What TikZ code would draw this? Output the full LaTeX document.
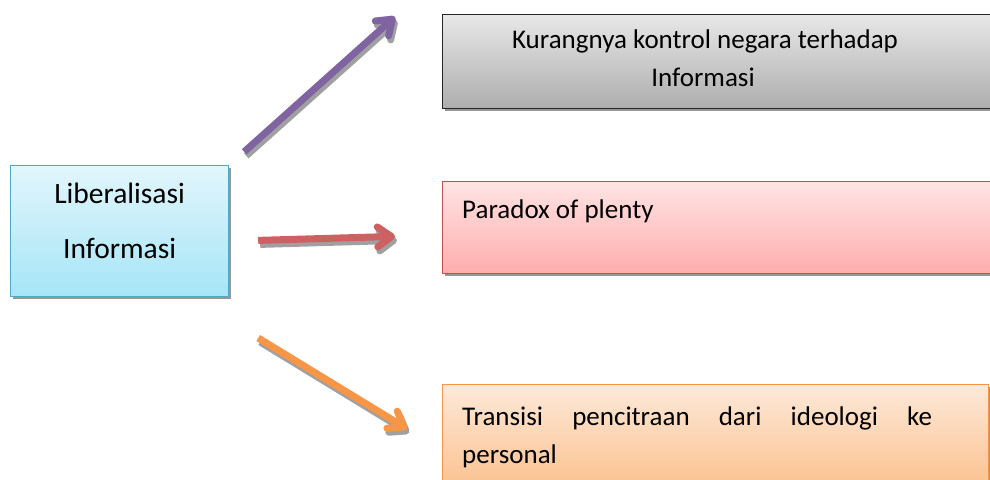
\documentclass[tikz,border=0pt]{standalone}
\usepackage{fontspec}
\setmainfont{Carlito}
\usetikzlibrary{arrows.meta, positioning, shadows}
\definecolor{birutepi}{HTML}{4BACC6}
\definecolor{biruatas}{HTML}{E2F6FC}
\definecolor{birubawah}{HTML}{A6E5F7}
\definecolor{abutepi}{HTML}{262626}
\definecolor{abuatas}{HTML}{E8E8E8}
\definecolor{abutengah}{HTML}{CBCBCB}
\definecolor{abubawah}{HTML}{ADADAD}
\definecolor{merahtepi}{HTML}{C0504D}
\definecolor{merahatas}{HTML}{FFE4E4}
\definecolor{merahbawah}{HTML}{FFADAD}
\definecolor{jinggatepi}{HTML}{F79646}
\definecolor{jinggaatas}{HTML}{FDE9D9}
\definecolor{jinggabawah}{HTML}{FBBF8A}
\definecolor{ungu}{HTML}{8064A2}
\definecolor{merah}{HTML}{CD6060}
\definecolor{jingga}{HTML}{F79646}
\definecolor{bayang}{HTML}{A0A0A0}
\tikzstyle{kotak} = [draw, rectangle, line width=1.2pt, anchor=south west, drop shadow={shadow xshift=2pt, shadow yshift=-3pt, fill=black!45, opacity=0.9}]
\tikzstyle{teks} = [inner sep=0pt, font=\fontsize{27}{38}\selectfont]
\tikzstyle{teksbesar} = [inner sep=0pt, font=\fontsize{29.5}{40}\selectfont]
\tikzstyle{panah} = [line width=7pt, -{Straight Barb[length=14pt, width=20pt, round]}]
\tikzstyle{bayangan} = [panah, draw=bayang, transform canvas={xshift=2pt, yshift=-4pt}]

\begin{document}
\begin{tikzpicture}[x=1pt, y=1pt]
	\useasboundingbox (0,0) rectangle (990,479);
	% kotak kiri
	\node [kotak, draw=birutepi, top color=biruatas, bottom color=birubawah, minimum width=218pt, minimum height=131pt] (liberal) at (10,182) {};
	\node [teksbesar, anchor=base] (liberal1) at ([yshift=-39pt]liberal.north) {Liberalisasi};
	\node [teksbesar, anchor=base] (liberal2) at ([yshift=-94pt]liberal.north) {Informasi};
	% kotak kanan
	\node [kotak, draw=abutepi, top color=abuatas, middle color=abutengah, bottom color=abubawah, minimum width=550pt, minimum height=94pt] (kontrol) at (442,370) {};
	\node [teks, anchor=base] (kontrol1) at ([xshift=263pt, yshift=-35pt]kontrol.north west) {Kurangnya kontrol negara terhadap};
	\node [teks, anchor=base] (kontrol2) at ([xshift=261pt, yshift=-73pt]kontrol.north west) {Informasi};
	\node [kotak, draw=merahtepi, top color=merahatas, bottom color=merahbawah, minimum width=550pt, minimum height=92pt] (plenty) at (442,205) {};
	\node [teks, anchor=base west] (plenty1) at ([xshift=20pt, yshift=-38pt]plenty.north west) {Paradox of plenty};
	\node [kotak, draw=jinggatepi, top color=jinggaatas, bottom color=jinggabawah, minimum width=546pt, minimum height=110pt] (transisi) at (442,-16) {};
	\node [teks, anchor=base west] (transisi1) at ([xshift=20pt, yshift=-42pt]transisi.north west) {\makebox[470pt][s]{Transisi pencitraan dari ideologi ke}};
	\node [teks, anchor=base west] (transisi2) at ([xshift=20pt, yshift=-80pt]transisi.north west) {personal};
	% panah
	\coordinate (a1) at ([xshift=15pt, yshift=13pt]liberal.north east);
	\coordinate (a2) at ([xshift=-47pt, yshift=-3pt]kontrol.north west);
	\coordinate (b1) at ([xshift=29pt, yshift=-9.5pt]liberal.east);
	\coordinate (b2) at ([xshift=-47pt, yshift=-9pt]plenty.west);
	\coordinate (c1) at ([xshift=29pt, yshift=-41pt]liberal.south east);
	\coordinate (c2) at ([xshift=-35pt, yshift=-45pt]transisi.north west);
	\draw [bayangan] (a1) -- (a2);
	\draw [bayangan] (b1) -- (b2);
	\draw [bayangan] (c1) -- (c2);
	\draw [panah, draw=ungu] (a1) -- (a2);
	\draw [panah, draw=merah] (b1) -- (b2);
	\draw [panah, draw=jingga] (c1) -- (c2);
\end{tikzpicture}
\end{document}
